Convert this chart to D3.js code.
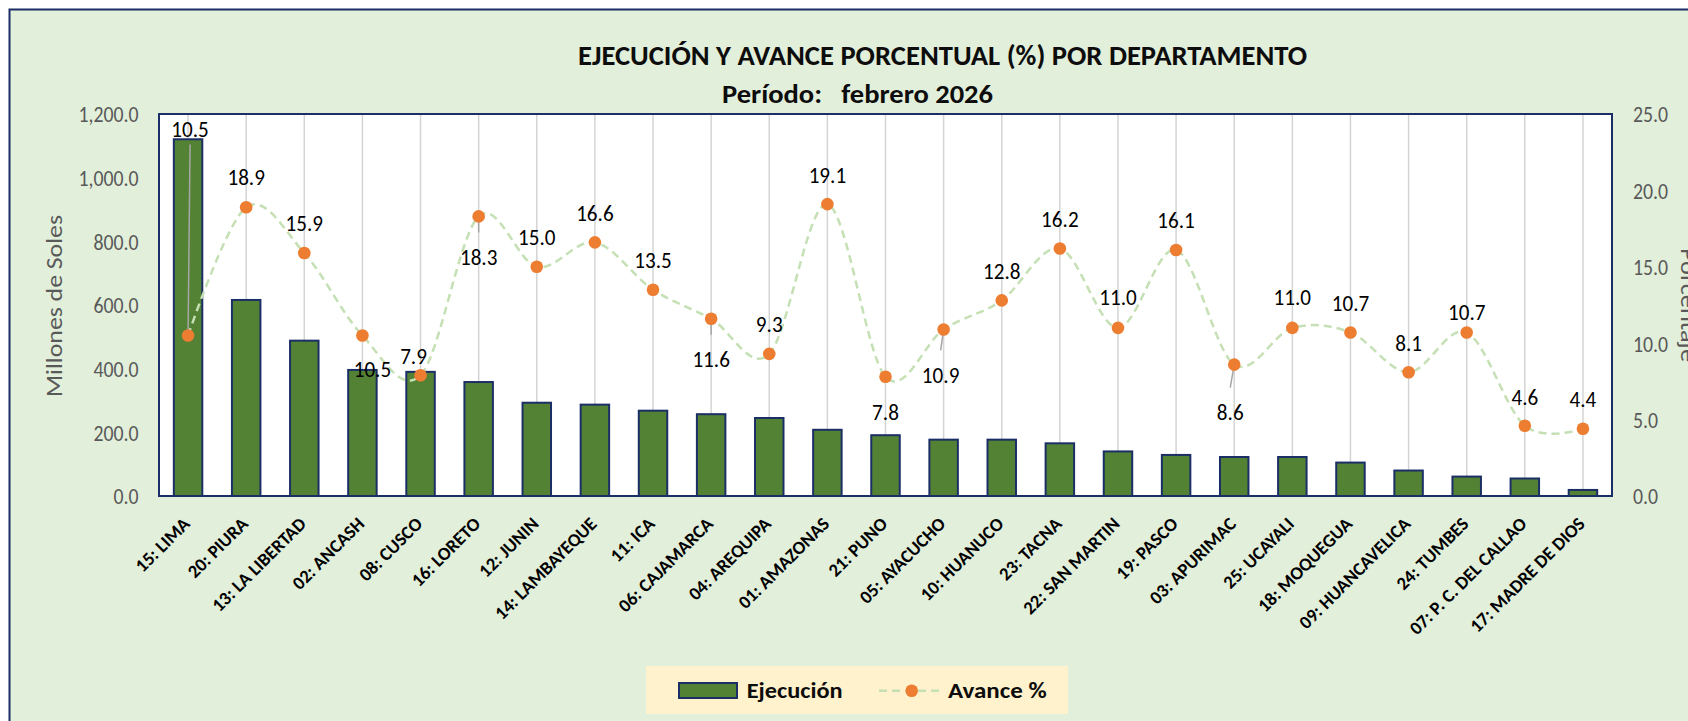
<!DOCTYPE html>
<html>
<head>
<meta charset="utf-8">
<script src="https://cdn.jsdelivr.net/npm/d3@7"></script>
<style>
html,body{margin:0;padding:0;background:#ffffff;overflow:hidden}
svg{display:block}
</style>
</head>
<body>
<svg id="chart" width="1688" height="721"></svg>
<script>
// ---------------- DATA ----------------
const categories = [
  "15: LIMA", "20: PIURA", "13: LA LIBERTAD", "02: ANCASH", "08: CUSCO",
  "16: LORETO", "12: JUNIN", "14: LAMBAYEQUE", "11: ICA", "06: CAJAMARCA",
  "04: AREQUIPA", "01: AMAZONAS", "21: PUNO", "05: AYACUCHO", "10: HUANUCO",
  "23: TACNA", "22: SAN MARTIN", "19: PASCO", "03: APURIMAC", "25: UCAYALI",
  "18: MOQUEGUA", "09: HUANCAVELICA", "24: TUMBES", "07: P. C. DEL CALLAO", "17: MADRE DE DIOS"
];
const ejecucion = [
  1120.6, 615.8, 488.0, 396.0, 390.0,
  358.0, 293.0, 287.0, 268.0, 257.0,
  245.0, 208.0, 191.0, 177.0, 177.0,
  165.5, 140.0, 129.0, 122.5, 122.5,
  105.0, 80.0, 61.0, 55.0, 19.0
];
const avance = [
  10.5, 18.9, 15.9, 10.5, 7.9,
  18.3, 15.0, 16.6, 13.5, 11.6,
  9.3, 19.1, 7.8, 10.9, 12.8,
  16.2, 11.0, 16.1, 8.6, 11.0,
  10.7, 8.1, 10.7, 4.6, 4.4
];
const leftTicks = [0, 200, 400, 600, 800, 1000, 1200];
const rightTicks = [0, 5, 10, 15, 20, 25];
const titleLine1 = "EJECUCIÓN Y AVANCE PORCENTUAL (%) POR DEPARTAMENTO";
const titleLine2 = "Período:   febrero 2026";
const leftAxisTitle = "Millones de Soles";
const rightAxisTitle = "Porcentaje";
const legendLabels = ["Ejecución", "Avance %"];
// data-label placement relative to each point (px), as Excel placed them
const labelOffsets = [
  [2,-207],[0,-30.5],[0,-30.5],[10,33.5],[-7,-20],
  [0,40],[0,-30],[0,-30],[0,-30],[0,40],
  [0,-30.5],[0,-29.5],[0,35],[-3,45],[0,-29.6],
  [0,-30],[0,-31],[0,-30],[-4,47],[0,-31],
  [0,-30],[0,-30],[0,-21],[0,-29],[0,-30.5]
];

// ---------------- STYLE ----------------
const FONT = "Calibri, Carlito, Lato, 'Open Sans', sans-serif";
const NAVY = "#1B2F66";
const BAR = "#548235";
const ORANGE = "#ED7D31";
const LINEC = "#C5E0B4";
const GRID = "#D4D4D4";
const AXT = "#595959";

const svg = d3.select("#chart");
const plot = {left: 159, top: 114, right: 1612, bottom: 496};

// chart area
svg.append("rect").attr("x", 9.5).attr("y", 9.5).attr("width", 1720).attr("height", 760)
  .attr("fill", "#E2EFDA").attr("stroke", NAVY).attr("stroke-width", 2);

// scales
const x = d3.scaleBand().domain(categories).range([plot.left, plot.right]).padding(0);
const yL = d3.scaleLinear().domain([0, 1200]).range([plot.bottom, plot.top]);
const yR = d3.scaleLinear().domain([0, 25]).range([plot.bottom, plot.top]);
const cx = d => x(d) + x.bandwidth() / 2;

// plot area
svg.append("rect").attr("x", plot.left).attr("y", plot.top)
  .attr("width", plot.right - plot.left).attr("height", plot.bottom - plot.top)
  .attr("fill", "#ffffff");

// vertical gridlines
svg.append("g").selectAll("line").data(categories).join("line")
  .attr("x1", d => cx(d)).attr("x2", d => cx(d))
  .attr("y1", plot.top).attr("y2", plot.bottom)
  .attr("stroke", GRID).attr("stroke-width", 1.5);

// bars
const barW = x.bandwidth() * 0.49;
svg.append("g").selectAll("rect").data(categories).join("rect")
  .attr("x", d => cx(d) - barW / 2)
  .attr("y", (d, i) => yL(ejecucion[i]))
  .attr("width", barW)
  .attr("height", (d, i) => yL(0) - yL(ejecucion[i]))
  .attr("fill", BAR).attr("stroke", NAVY).attr("stroke-width", 2);

// leader lines for far-placed labels
const leaders = svg.append("g");
categories.forEach((c, i) => {
  const [dx, dy] = labelOffsets[i];
  const px = cx(c), py = yR(avance[i]);
  if (dy < -100) {
    leaders.append("line").attr("x1", px + dx).attr("y1", py + dy + 16)
      .attr("x2", px).attr("y2", py)
      .attr("stroke", "#A6A6A6").attr("stroke-width", 1.5);
  } else if (dy >= 40) {
    leaders.append("line").attr("x1", px).attr("y1", py)
      .attr("x2", px + dx).attr("y2", py + dy - 24)
      .attr("stroke", "#A6A6A6").attr("stroke-width", 1.5);
  }
});

// smooth dashed line
const line = d3.line()
  .x((d, i) => cx(categories[i]))
  .y(d => yR(d))
  .curve(d3.curveCardinal.tension(0));
svg.append("path").datum(avance).attr("d", line)
  .attr("fill", "none").attr("stroke", LINEC).attr("stroke-width", 2.5)
  .attr("stroke-dasharray", "8,5");

// dots
svg.append("g").selectAll("circle").data(avance).join("circle")
  .attr("cx", (d, i) => cx(categories[i])).attr("cy", d => yR(d)).attr("r", 6.3)
  .attr("fill", ORANGE);

// data labels
const fmt1 = d3.format(".1f");
const LBL = 23, SX = 0.92;
svg.append("g").selectAll("text").data(avance).join("text")
  .attr("transform", (d, i) => {
    const [dx, dy] = labelOffsets[i];
    return `translate(${cx(categories[i]) + dx},${yR(d) + dy + LBL * 0.36}) scale(${SX},1)`;
  })
  .attr("text-anchor", "middle")
  .attr("font-family", FONT).attr("font-size", LBL).attr("fill", "#000")
  .text(d => fmt1(d));

// plot border
svg.append("rect").attr("x", plot.left).attr("y", plot.top)
  .attr("width", plot.right - plot.left).attr("height", plot.bottom - plot.top)
  .attr("fill", "none").attr("stroke", NAVY).attr("stroke-width", 2);

// left axis
const TK = 22, TSX = 0.9;
const gL = svg.append("g").attr("transform", `translate(${plot.left},0)`)
  .call(d3.axisLeft(yL).tickValues(leftTicks).tickFormat(d3.format(",.1f")).tickSize(0).tickPadding(0));
gL.select(".domain").remove();
gL.selectAll("text")
  .attr("font-family", FONT).attr("font-size", TK).attr("fill", AXT)
  .attr("x", -20.5 / TSX).attr("dy", "0.36em")
  .attr("transform", `scale(${TSX},1)`);

// right axis
const gR = svg.append("g").attr("transform", `translate(${plot.right},0)`)
  .call(d3.axisRight(yR).tickValues(rightTicks).tickFormat(d3.format(".1f")).tickSize(0).tickPadding(0));
gR.select(".domain").remove();
gR.selectAll("text")
  .attr("font-family", FONT).attr("font-size", TK).attr("fill", AXT)
  .attr("x", 21 / TSX).attr("dy", "0.36em")
  .attr("transform", `scale(${TSX},1)`);

// bottom axis (category labels)
const gB = svg.append("g").attr("transform", `translate(0,${plot.bottom})`)
  .call(d3.axisBottom(x).tickSize(0).tickPadding(0));
gB.select(".domain").remove();
gB.selectAll("text")
  .attr("font-family", FONT).attr("font-size", 18.5).attr("font-weight", "bold").attr("fill", "#000")
  .attr("x", 0).attr("y", 0).attr("dy", 0)
  .attr("text-anchor", "end")
  .attr("transform", "translate(3,29) rotate(-45)");

// axis titles
svg.append("text").attr("transform", "translate(62,306) rotate(-90)")
  .attr("text-anchor", "middle").attr("font-family", FONT).attr("font-size", 22)
  .attr("fill", AXT).attr("textLength", 182).attr("lengthAdjust", "spacingAndGlyphs")
  .text(leftAxisTitle);
svg.append("text").attr("transform", "translate(1681,305) rotate(90)")
  .attr("text-anchor", "middle").attr("font-family", FONT).attr("font-size", 22)
  .attr("fill", AXT).attr("textLength", 114).attr("lengthAdjust", "spacingAndGlyphs")
  .text(rightAxisTitle);

// title
svg.append("text").attr("x", 578).attr("y", 65)
  .attr("font-family", FONT).attr("font-size", 28).attr("font-weight", "bold").attr("fill", "#0D0D0D")
  .attr("textLength", 729).attr("lengthAdjust", "spacingAndGlyphs")
  .text(titleLine1);
svg.append("text").attr("x", 722).attr("y", 103.3)
  .attr("font-family", FONT).attr("font-size", 26).attr("font-weight", "bold").attr("fill", "#0D0D0D")
  .attr("textLength", 271).attr("lengthAdjust", "spacingAndGlyphs")
  .style("white-space", "pre")
  .text(titleLine2);

// legend
const lg = svg.append("g");
lg.append("rect").attr("x", 646).attr("y", 666).attr("width", 422).attr("height", 48).attr("fill", "#FFF2CC");
lg.append("rect").attr("x", 679).attr("y", 683).attr("width", 58).attr("height", 15)
  .attr("fill", BAR).attr("stroke", NAVY).attr("stroke-width", 2);
lg.append("text").attr("x", 746.7).attr("y", 698)
  .attr("font-family", FONT).attr("font-size", 22).attr("font-weight", "bold").attr("fill", "#0D0D0D")
  .attr("textLength", 96).attr("lengthAdjust", "spacingAndGlyphs").text(legendLabels[0]);
lg.append("line").attr("x1", 879).attr("x2", 942).attr("y1", 690.7).attr("y2", 690.7)
  .attr("stroke", LINEC).attr("stroke-width", 2.5).attr("stroke-dasharray", "8,5");
lg.append("circle").attr("cx", 911.7).attr("cy", 690.7).attr("r", 6.3).attr("fill", ORANGE);
lg.append("text").attr("x", 948).attr("y", 698)
  .attr("font-family", FONT).attr("font-size", 22).attr("font-weight", "bold").attr("fill", "#0D0D0D")
  .attr("textLength", 98.7).attr("lengthAdjust", "spacingAndGlyphs").text(legendLabels[1]);
</script>
</body>
</html>
